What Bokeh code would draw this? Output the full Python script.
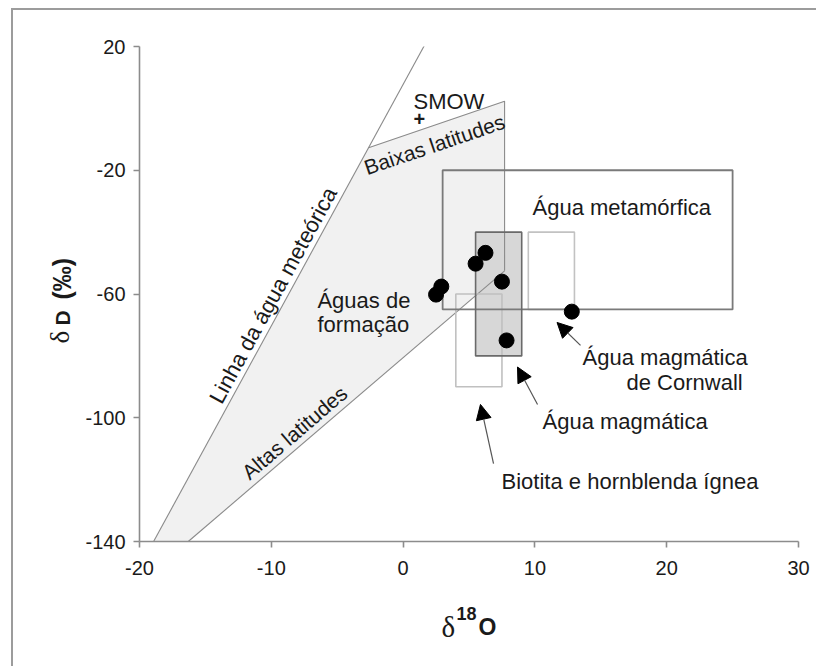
import math
from bokeh.plotting import figure
from bokeh.models import FixedTicker, Label, Arrow, NormalHead
from bokeh.embed import file_html
from bokeh.resources import INLINE

# Sample compositions (delta 18O, delta D, per mil)
sample_d18o = [6.25, 5.5, 7.5, 2.9, 2.5, 12.8, 7.85]
sample_dd = [-46.7, -50.2, -56.0, -57.6, -60.2, -65.7, -75.0]

# Reference fields (rectangles)
field_names = ["Água metamórfica", "Água magmática",
               "Água magmática de Cornwall", "Biotita e hornblenda ígnea"]
field_o_min = [3.0, 5.5, 9.5, 4.0]
field_o_max = [25.0, 9.0, 13.0, 7.5]
field_d_min = [-65.0, -80.0, -65.0, -90.0]
field_d_max = [-20.0, -40.0, -40.0, -60.0]

# Global meteoric water line
gmwl_o = [-18.93, 1.7]
gmwl_d = [-140.0, 21.0]

# Formation waters field
form_o = [-18.93, -2.62, 7.7, 7.7, -16.3]
form_d = [-140.0, -12.7, 2.3, -52.5, -140.0]

x_ticks = [-20, -10, 0, 10, 20, 30]
y_ticks = [20, -20, -60, -100, -140]

SANS = "Liberation Sans"
SERIF = "Liberation Serif"
INK = "#1a1a1a"

W, H = 805, 658
p = figure(width=W, height=H, x_range=(-20, 30), y_range=(-140, 20),
           output_backend="svg", toolbar_location=None,
           min_border_left=126, min_border_right=20,
           min_border_top=36, min_border_bottom=127,
           background_fill_color="white", border_fill_color="white",
           outline_line_color=None)
p.margin = (8, 0, 0, 11)
p.styles = {"border-left": "2px solid #9c9c9c", "border-top": "2px solid #9c9c9c"}

p.grid.visible = False
for ax in (p.xaxis[0], p.yaxis[0]):
    ax.axis_line_color = "#8c8c8c"
    ax.axis_line_width = 1.6
    ax.major_tick_line_color = "#8c8c8c"
    ax.major_tick_line_width = 1.6
    ax.major_tick_out = 6
    ax.major_tick_in = 0
    ax.minor_tick_line_color = None
    ax.major_label_text_font = SANS
    ax.major_label_text_font_size = "20px"
    ax.major_label_text_color = INK
p.xaxis.ticker = FixedTicker(ticks=x_ticks)
p.yaxis.ticker = FixedTicker(ticks=y_ticks)
p.xaxis.major_label_overrides = {t: str(t) for t in x_ticks}
p.yaxis.major_label_overrides = {t: str(t) for t in y_ticks}
p.xaxis.major_label_standoff = 13
p.yaxis.major_label_standoff = 8

# formation-water field (shaded)
p.patch(form_o, form_d, fill_color="#f1f1f1", line_color=None)

# magmatic water field fill
i_mag = 1
p.quad(left=[field_o_min[i_mag]], right=[field_o_max[i_mag]],
       bottom=[field_d_min[i_mag]], top=[field_d_max[i_mag]],
       fill_color="#d7d7d7", line_color=None)

# meteoric line and latitude boundaries
p.line(gmwl_o, gmwl_d, line_color="#8a8a8a", line_width=1.1)
p.line(form_o[1:4], form_d[1:4], line_color="#8a8a8a", line_width=1.1)
p.line(form_o[3:5], form_d[3:5], line_color="#8a8a8a", line_width=1.1)

# field outlines
outline_colors = ["#7a7a7a", "#6a6a6a", "#c2c2c2", "#c0c0c0"]
outline_widths = [1.8, 1.6, 1.6, 1.6]
for i in [3, 2, 0, 1]:
    p.quad(left=[field_o_min[i]], right=[field_o_max[i]],
           bottom=[field_d_min[i]], top=[field_d_max[i]],
           fill_color=None, line_color=outline_colors[i],
           line_width=outline_widths[i])

# samples
p.scatter(sample_d18o, sample_dd, marker="circle", size=15,
          fill_color="black", line_color="black")


def make_label(x, y, text, size="22px", align="left", baseline="alphabetic",
               angle=0.0, font=SANS, style="normal", units="data"):
    return Label(x=x, y=y, text=text, text_font=font,
                 x_units=units, y_units=units,
                 text_font_size=size, text_color=INK,
                 text_align=align, text_baseline=baseline,
                 angle=math.radians(angle), text_font_style=style)


def lab(*args, **kw):
    p.add_layout(make_label(*args, **kw))


lab(0.79, 2.3, "SMOW")
lab(1.24, -3.4, "+", size="20px", align="center", baseline="middle",
    style="bold")
lab(2.38, -11.7, "Baixas latitudes", size="21px", align="center",
    baseline="middle", angle=18.8)
lab(-9.86, -60.4, "Linha da água meteórica", size="22px", align="center",
    baseline="middle", angle=61.4)
lab(-8.24, -104.8, "Altas latitudes", size="21px", align="center",
    baseline="middle", angle=40.6)
lab(-6.5, -62.1, "Águas de")
lab(-6.5, -69.85, "formação")
lab(9.82, -32.0, "Água metamórfica")
lab(13.62, -80.5, "Água magmática")
lab(16.95, -88.6, "de Cornwall")
lab(10.58, -101.2, "Água magmática")
lab(7.47, -120.6, "Biotita e hornblenda ígnea")

# arrows pointing at the fields
arrows = [((13.46, -76.6), (11.68, -69.2)),
          ((10.2, -95.7), (8.68, -83.6)),
          ((6.86, -114.8), (5.87, -95.7))]
for (xs, ys), (xe, ye) in arrows:
    p.add_layout(Arrow(end=NormalHead(size=15, fill_color="black",
                                      line_color="black", line_width=1),
                       x_start=xs, y_start=ys, x_end=xe, y_end=ye,
                       line_color="#555555", line_width=1.2))

# axis titles: kept in the side panels so they are not clipped to the
# data frame, positioned in canvas pixels
p.add_layout(make_label(426, 614, "δ", size="29px", font=SERIF,
                        units="canvas"), "below")
p.add_layout(make_label(441, 601, "18", size="18px", style="bold",
                        units="canvas"), "below")
p.add_layout(make_label(463, 614, "O", size="23px", style="bold",
                        units="canvas"), "below")

p.add_layout(make_label(44, 331, "δ", size="27px", font=SERIF, angle=90,
                        baseline="middle", units="canvas"), "above")
p.add_layout(make_label(47, 313, "D", size="21px", style="bold", angle=90,
                        baseline="middle", units="canvas"), "above")
p.add_layout(make_label(46, 287, "(‰)", size="25px", style="bold", angle=90,
                        baseline="middle", units="canvas"), "left")

open("out.html", "w").write(file_html(p, INLINE))
